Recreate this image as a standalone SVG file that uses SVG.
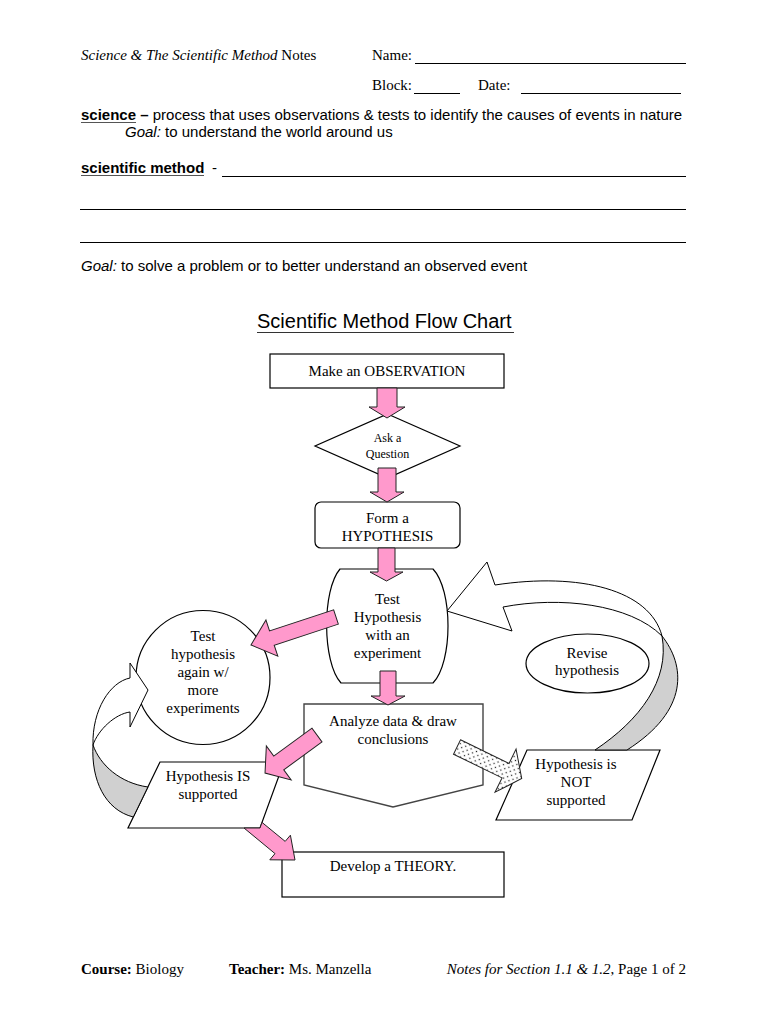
<svg xmlns="http://www.w3.org/2000/svg" width="770" height="1024" viewBox="0 0 770 1024">
<defs>
<pattern id="dots" width="6" height="6" patternUnits="userSpaceOnUse">
<rect width="6" height="6" fill="#fff"/>
<circle cx="1.5" cy="1.5" r="0.75" fill="#222"/>
<circle cx="4.5" cy="4.5" r="0.75" fill="#222"/>
</pattern>
</defs>
<style>
.serif{font-family:"Liberation Serif","Times New Roman",serif;font-size:15px;fill:#000;}
.sans{font-family:"Liberation Sans",Arial,sans-serif;font-size:15px;fill:#000;}
.lbl{font-family:"Liberation Serif","Times New Roman",serif;font-size:15px;text-anchor:middle;fill:#000;}
.small{font-size:12px;}
.node{fill:#fff;stroke:#000;stroke-width:1.2;}
.node2{fill:#fff;stroke:#444;stroke-width:1.4;}
.rule{stroke:#000;stroke-width:1.2;}
.pink{fill:#ff99cc;stroke:#222;stroke-width:1;}
.dotted{fill:url(#dots);stroke:#222;stroke-width:1;}
.band{fill:#fff;stroke:#000;stroke-width:1;}
.back{fill:#d0d0d0;stroke:#000;stroke-width:1;}
</style>
<rect width="770" height="1024" fill="#fff"/>

<g id="header">
<text x="81" y="60" class="serif"><tspan font-style="italic">Science &amp; The Scientific Method</tspan> Notes</text>
<text x="372" y="60" class="serif">Name:</text>
<line x1="415" y1="63.5" x2="686" y2="63.5" class="rule"/>
<text x="372" y="90" class="serif">Block:</text>
<line x1="414" y1="93.5" x2="460" y2="93.5" class="rule"/>
<text x="478" y="90" class="serif">Date:</text>
<line x1="521" y1="93.5" x2="681" y2="93.5" class="rule"/>
<text x="81" y="120" class="sans"><tspan font-weight="bold">science –</tspan> process that uses observations &amp; tests to identify the causes of events in nature</text>
<line x1="81" y1="122.5" x2="136" y2="122.5" stroke="#555" stroke-width="1.2"/>
<text x="125" y="137" class="sans"><tspan font-style="italic">Goal:</tspan> to understand the world around us</text>
<text x="81" y="173" class="sans" font-weight="bold">scientific method</text>
<line x1="81" y1="175.5" x2="204" y2="175.5" stroke="#555" stroke-width="1.2"/>
<text x="212" y="173" class="sans">-</text>
<line x1="222" y1="176.5" x2="686" y2="176.5" class="rule"/>
<line x1="80" y1="209.5" x2="686" y2="209.5" class="rule"/>
<line x1="80" y1="242.5" x2="686" y2="242.5" class="rule"/>
<text x="81" y="271" class="sans"><tspan font-style="italic">Goal:</tspan> to solve a problem or to better understand an observed event</text>
<text x="257" y="328" class="sans" style="font-size:20px">Scientific Method Flow Chart</text>
<line x1="257" y1="332.5" x2="514" y2="332.5" stroke="#333" stroke-width="1"/>
</g>

<g id="observation">
<rect x="270" y="354" width="234" height="34" class="node"/>
<text x="387" y="376" class="lbl">Make an OBSERVATION</text>
</g>

<g id="question">
<polygon points="387.5,414 460,446 387.5,478 315,446" class="node"/>
<text x="387.5" y="442" class="lbl small">Ask a</text>
<text x="387.5" y="458" class="lbl small">Question</text>
</g>

<g id="hypothesis">
<rect x="315" y="502" width="145" height="46" rx="6" class="node"/>
<text x="387.5" y="523" class="lbl">Form a</text>
<text x="387.5" y="541" class="lbl">HYPOTHESIS</text>
</g>

<g id="test">
<path d="M340,569 L433,569 C453,590 453,662 433,683 L341,683 C322,662 322,590 340,569 Z" class="node"/>
<text x="387.5" y="604" class="lbl">Test</text>
<text x="387.5" y="622" class="lbl">Hypothesis</text>
<text x="387.5" y="640" class="lbl">with an</text>
<text x="387.5" y="658" class="lbl">experiment</text>
</g>

<g id="test-again">
<circle cx="203" cy="677.5" r="67" class="node"/>
<text x="203" y="641" class="lbl">Test</text>
<text x="203" y="659" class="lbl">hypothesis</text>
<text x="203" y="677" class="lbl">again w/</text>
<text x="203" y="695" class="lbl">more</text>
<text x="203" y="713" class="lbl">experiments</text>
</g>

<g id="revise">
<ellipse cx="587.5" cy="663.5" rx="61.5" ry="29.5" class="node"/>
<text x="587" y="658" class="lbl">Revise</text>
<text x="587" y="675" class="lbl">hypothesis</text>
</g>

<g id="analyze">
<polygon points="304,704 483,704 483,785 393,807 304,785" class="node2"/>
<text x="393" y="726" class="lbl">Analyze data &amp; draw</text>
<text x="393" y="744" class="lbl">conclusions</text>
</g>

<g id="supported">
<polygon points="160,762 284,762 260,828 128,828" class="node"/>
<text x="208" y="781" class="lbl">Hypothesis IS</text>
<text x="208" y="799" class="lbl">supported</text>
</g>

<g id="not-supported">
<polygon points="527,750 660,750 632,820 496,820" class="node"/>
<text x="576" y="769" class="lbl">Hypothesis is</text>
<text x="576" y="787" class="lbl">NOT</text>
<text x="576" y="805" class="lbl">supported</text>
</g>

<g id="theory">
<rect x="282" y="852" width="222" height="45" class="node"/>
<text x="393" y="871" class="lbl">Develop a THEORY.</text>
</g>

<g id="connectors">
<polygon points="377,388 397,388 397,407 405,407 387,418 369,407 377,407" class="pink"/>
<polygon points="378,468 396,468 396,492 404,492 387,502 370,492 378,492" class="pink"/>
<polygon points="378,548 395,548 395,572 403,572 386.5,581 370,572 378,572" class="pink"/>
<polygon points="380,671 396,671 396,696 405,696 388,705 371,696 380,696" class="pink"/>
<polygon transform="translate(336,617) rotate(161.8)" points="0,-7.5 67.5,-7.5 67.5,-19 89.5,0 67.5,19 67.5,7.5 0,7.5" class="pink"/>
<polygon transform="translate(317,735) rotate(143.8)" points="0,-8.5 47.4,-8.5 47.4,-21 64.4,0 47.4,21 47.4,8.5 0,8.5" class="pink"/>
<polygon points="262,822.4 285.2,841.4 290.4,835.2 295,860 269.8,859.8 275,853.6 244,828 260,828" class="pink"/>
<polygon transform="translate(457,747) rotate(26)" points="0,-8 54,-8 54,-24 72,0 54,24 54,8 0,8" class="dotted"/>
<path d="M93,745 C91,780 105,810 133.3,817 L147.9,787 C120,783 100,765 93,745 Z" class="back"/>
<path d="M93,745 C92,710 110,682 130,678 L130,663 L148,690 L130,727 L130,712 C115,714 98,730 93,745 Z" class="band"/>
<path d="M662,636 C685,665 690,710 627,750 L595,750 C640,720 670,680 662,636 Z" class="back"/>
<path d="M662,636 C650,590 580,572 495,585 L487,562 L447,611 L512,631 L503,607 C560,596 630,604 662,636 Z" class="band"/>
</g>

<g id="footer">
<text x="81" y="974" class="serif"><tspan font-weight="bold">Course:</tspan> Biology</text>
<text x="229" y="974" class="serif"><tspan font-weight="bold">Teacher:</tspan> Ms. Manzella</text>
<text x="686" y="974" class="serif" text-anchor="end"><tspan font-style="italic">Notes for Section 1.1 &amp; 1.2</tspan>, Page 1 of 2</text>
</g>
</svg>
